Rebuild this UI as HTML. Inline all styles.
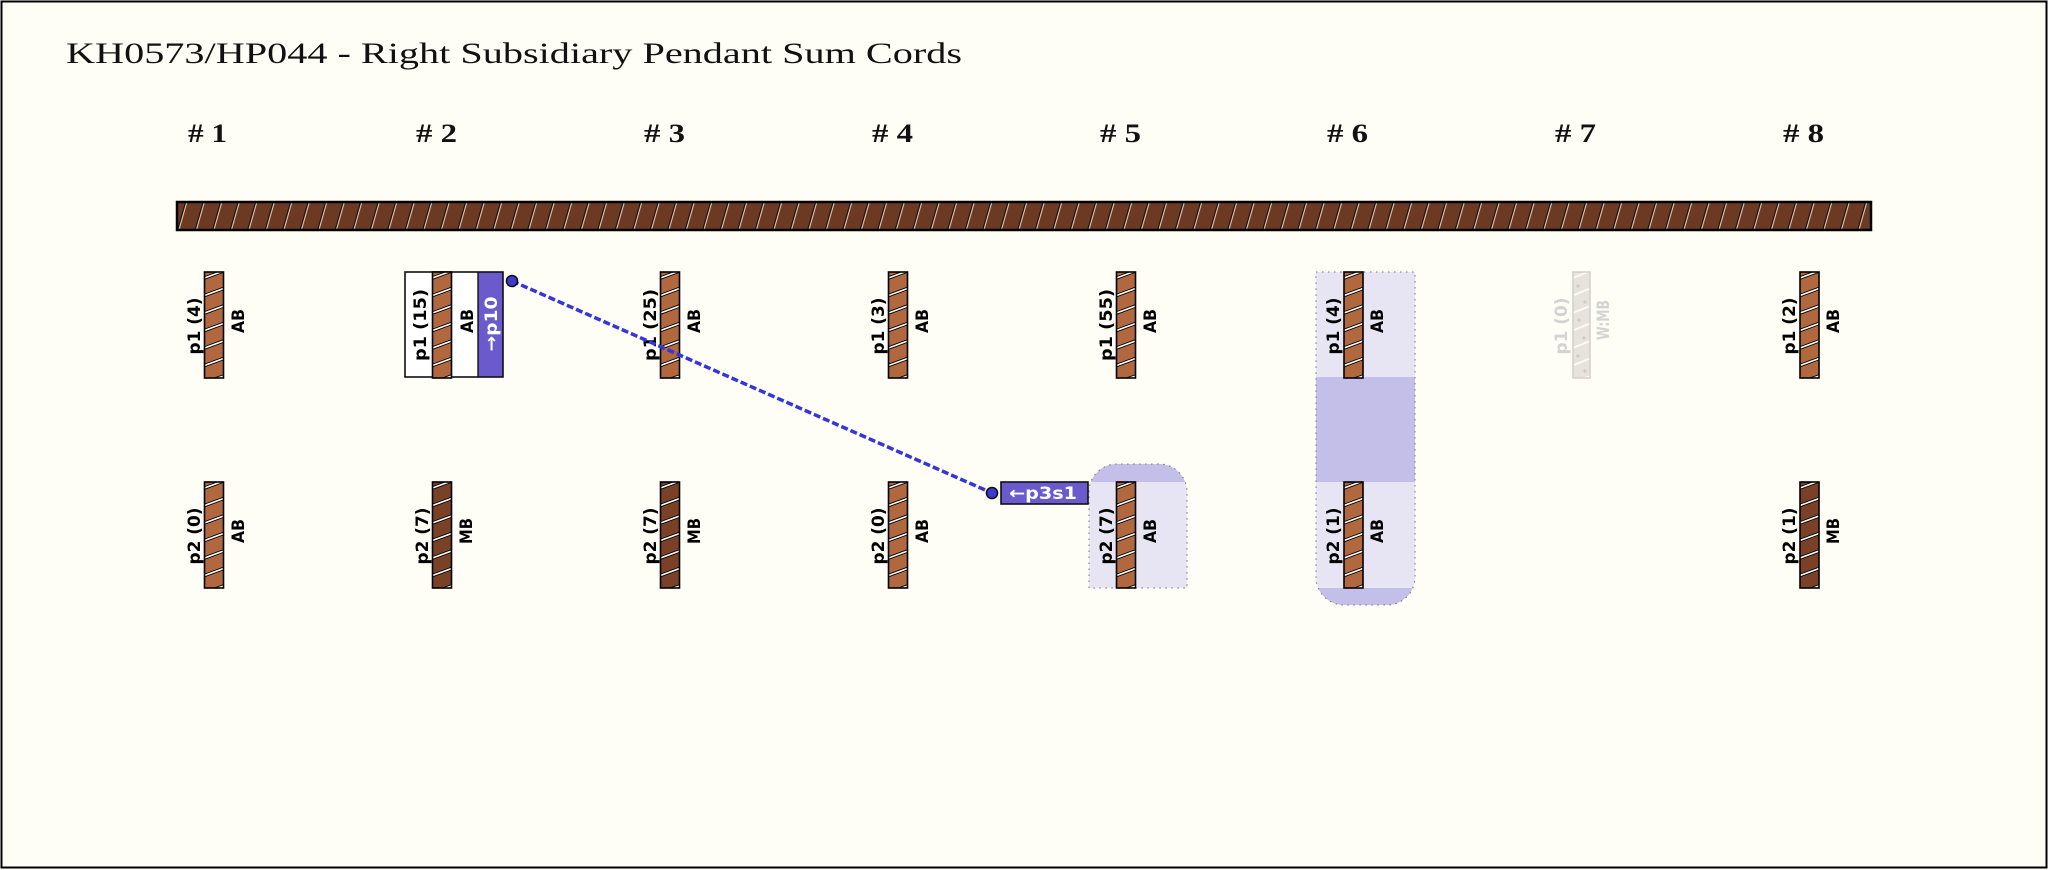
<!DOCTYPE html>
<html>
<head>
<meta charset="utf-8">
<style>
  html, body { margin:0; padding:0; background:#fffef6; }
  svg { display:block; }
  .lbl { font-family: "DejaVu Sans", "Liberation Sans", sans-serif; font-weight: bold; font-size: 17px; fill: #000; }
  .ghost { fill: #d3d3d3; }
  .wlbl { fill: #ffffff; }
  .hdr { font-family: "Liberation Serif", serif; font-weight: bold; font-size: 26px; fill: #111; }
  .ttl { font-family: "Liberation Serif", serif; font-size: 30px; fill: #111; }
</style>
</head>
<body>
<svg width="2048" height="870" viewBox="0 0 2048 870" xmlns="http://www.w3.org/2000/svg">
  <defs>
    <clipPath id="cc"><rect x="0" y="0" width="19" height="106"/></clipPath>
    <clipPath id="c5"><path d="M1089,588 L1089,492 A28,28 0 0 1 1117,464 L1159,464 A28,28 0 0 1 1187,492 L1187,588 Z"/></clipPath>
    <clipPath id="c6"><path d="M1316,272 L1415,272 L1415,577 A28,28 0 0 1 1387,605 L1344,605 A28,28 0 0 1 1316,577 Z"/></clipPath>
    <g id="stripes">
      <g clip-path="url(#cc)">
        <path d="M0,6 L19,-1 M0,23.5 L19,16.5 M0,41 L19,34 M0,58.5 L19,51.5 M0,76 L19,69 M0,93.5 L19,86.5 M0,111 L19,104" stroke="#000" stroke-width="3.4" fill="none"/>
        <path d="M0,6 L19,-1 M0,23.5 L19,16.5 M0,41 L19,34 M0,58.5 L19,51.5 M0,76 L19,69 M0,93.5 L19,86.5 M0,111 L19,104" stroke="#fff" stroke-width="1.6" fill="none"/>
      </g>
    </g>
    <g id="cAB">
      <rect x="0" y="0" width="19" height="106" fill="#b1683f"/>
      <use href="#stripes"/>
      <rect x="0" y="0" width="19" height="106" fill="none" stroke="#000" stroke-width="1.6"/>
    </g>
    <g id="cMB">
      <rect x="0" y="0" width="19" height="106" fill="#7b4127"/>
      <use href="#stripes"/>
      <rect x="0" y="0" width="19" height="106" fill="none" stroke="#000" stroke-width="1.6"/>
    </g>
    <g id="cW">
      <rect x="0" y="0" width="17" height="106" fill="#e6e2dc"/>
      <g clip-path="url(#cc)">
        <path d="M0,6 L17,-1 M0,23.5 L17,16.5 M0,41 L17,34 M0,58.5 L17,51.5 M0,76 L17,69 M0,93.5 L17,86.5 M0,111 L17,104" stroke="#fbfbf8" stroke-width="2" fill="none"/>
        <circle cx="5" cy="14" r="1.6" fill="#d5c9bd"/><circle cx="12" cy="30" r="1.6" fill="#d5c9bd"/>
        <circle cx="6" cy="48" r="1.6" fill="#d5c9bd"/><circle cx="11" cy="66" r="1.6" fill="#d5c9bd"/>
        <circle cx="5" cy="84" r="1.6" fill="#d5c9bd"/><circle cx="12" cy="99" r="1.6" fill="#d5c9bd"/>
      </g>
      <rect x="0" y="0" width="17" height="106" fill="none" stroke="#d2cfca" stroke-width="1.5"/>
    </g>
    <pattern id="barpat" patternUnits="userSpaceOnUse" x="177" y="202" width="17.5" height="28">
      <rect x="0" y="0" width="17.5" height="28" fill="#6c3a23"/>
      <path d="M0.6,28 L8.6,0" stroke="#1e0e06" stroke-width="1.1"/>
      <path d="M1.9,28 L9.9,0" stroke="#d4c6b9" stroke-width="1.1"/>
    </pattern>
  </defs>

  <!-- frame -->
  <rect x="1.5" y="1.5" width="2045" height="866" fill="#fffef6" stroke="#000" stroke-width="2"/>

  <!-- title -->
  <text class="ttl" x="66" y="63" textLength="896" lengthAdjust="spacingAndGlyphs">KH0573/HP044 - Right Subsidiary Pendant Sum Cords</text>

  <!-- headers -->
  <text class="hdr" x="188" y="142" textLength="39" lengthAdjust="spacingAndGlyphs"># 1</text>
  <text class="hdr" x="416" y="142" textLength="41" lengthAdjust="spacingAndGlyphs"># 2</text>
  <text class="hdr" x="644" y="142" textLength="41" lengthAdjust="spacingAndGlyphs"># 3</text>
  <text class="hdr" x="872" y="142" textLength="41" lengthAdjust="spacingAndGlyphs"># 4</text>
  <text class="hdr" x="1100" y="142" textLength="41" lengthAdjust="spacingAndGlyphs"># 5</text>
  <text class="hdr" x="1327" y="142" textLength="41" lengthAdjust="spacingAndGlyphs"># 6</text>
  <text class="hdr" x="1555" y="142" textLength="41" lengthAdjust="spacingAndGlyphs"># 7</text>
  <text class="hdr" x="1783" y="142" textLength="41" lengthAdjust="spacingAndGlyphs"># 8</text>

  <!-- primary bar -->
  <rect x="177" y="202" width="1694" height="28" fill="url(#barpat)" stroke="#000" stroke-width="2.5"/>

  <!-- highlight group col 6 -->
  <g clip-path="url(#c6)">
    <rect x="1316" y="272" width="99" height="333" fill="#e7e5f3"/>
    <rect x="1316" y="377" width="99" height="105" fill="#c4bfe9"/>
    <rect x="1316" y="588" width="99" height="17" fill="#c4bfe9"/>
  </g>
  <path d="M1316,272 L1415,272 L1415,577 A28,28 0 0 1 1387,605 L1344,605 A28,28 0 0 1 1316,577 Z" fill="none" stroke="#6f6f7a" stroke-width="1" stroke-dasharray="1.5 4.5"/>

  <!-- highlight group col 5 lower -->
  <g clip-path="url(#c5)">
    <rect x="1089" y="464" width="98" height="124" fill="#e7e5f3"/>
    <rect x="1089" y="464" width="98" height="18" fill="#c4bfe9"/>
  </g>
  <path d="M1089,588 L1089,492 A28,28 0 0 1 1117,464 L1159,464 A28,28 0 0 1 1187,492 L1187,588 Z" fill="none" stroke="#6f6f7a" stroke-width="1" stroke-dasharray="1.5 4.5"/>

  <!-- col 2 upper box -->
  <rect x="405" y="272" width="98" height="105" fill="#ffffff"/>
  <rect x="478" y="272" width="25" height="105" fill="#6a5acd"/>
  <rect x="405" y="272" width="98" height="105" fill="none" stroke="#111" stroke-width="1.6"/>
  <line x1="478" y1="272" x2="478" y2="377" stroke="#111" stroke-width="1.4"/>

  <!-- upper cords -->
  <use href="#cAB" x="204.5" y="272"/>
  <use href="#cAB" x="432.5" y="272"/>
  <use href="#cAB" x="660.5" y="272"/>
  <use href="#cAB" x="888.5" y="272"/>
  <use href="#cAB" x="1116.5" y="272"/>
  <use href="#cAB" x="1344" y="272"/>
  <use href="#cW" x="1573" y="272"/>
  <use href="#cAB" x="1800" y="272"/>

  <!-- lower cords -->
  <use href="#cAB" x="204.5" y="482"/>
  <use href="#cMB" x="432.5" y="482"/>
  <use href="#cMB" x="660.5" y="482"/>
  <use href="#cAB" x="888.5" y="482"/>
  <use href="#cAB" x="1116.5" y="482"/>
  <use href="#cAB" x="1344" y="482"/>
  <use href="#cMB" x="1800" y="482"/>

  <!-- upper labels -->
  <text class="lbl" text-anchor="middle" transform="translate(200,326) rotate(-90)" textLength="57" lengthAdjust="spacingAndGlyphs">p1 (4)</text>
  <text class="lbl" text-anchor="middle" transform="translate(244,321) rotate(-90)" textLength="24" lengthAdjust="spacingAndGlyphs">AB</text>

  <text class="lbl" text-anchor="middle" transform="translate(426,325) rotate(-90)" textLength="72" lengthAdjust="spacingAndGlyphs">p1 (15)</text>
  <text class="lbl" text-anchor="middle" transform="translate(473,321) rotate(-90)" textLength="24" lengthAdjust="spacingAndGlyphs">AB</text>
  <text class="lbl wlbl" text-anchor="middle" transform="translate(497,324) rotate(-90)" textLength="55" lengthAdjust="spacingAndGlyphs">→p10</text>

  <text class="lbl" text-anchor="middle" transform="translate(656,325) rotate(-90)" textLength="72" lengthAdjust="spacingAndGlyphs">p1 (25)</text>
  <text class="lbl" text-anchor="middle" transform="translate(700,321) rotate(-90)" textLength="24" lengthAdjust="spacingAndGlyphs">AB</text>

  <text class="lbl" text-anchor="middle" transform="translate(884,326) rotate(-90)" textLength="57" lengthAdjust="spacingAndGlyphs">p1 (3)</text>
  <text class="lbl" text-anchor="middle" transform="translate(928,321) rotate(-90)" textLength="24" lengthAdjust="spacingAndGlyphs">AB</text>

  <text class="lbl" text-anchor="middle" transform="translate(1112,325) rotate(-90)" textLength="72" lengthAdjust="spacingAndGlyphs">p1 (55)</text>
  <text class="lbl" text-anchor="middle" transform="translate(1156,321) rotate(-90)" textLength="24" lengthAdjust="spacingAndGlyphs">AB</text>

  <text class="lbl" text-anchor="middle" transform="translate(1339,326) rotate(-90)" textLength="57" lengthAdjust="spacingAndGlyphs">p1 (4)</text>
  <text class="lbl" text-anchor="middle" transform="translate(1383,321) rotate(-90)" textLength="24" lengthAdjust="spacingAndGlyphs">AB</text>

  <text class="lbl ghost" text-anchor="middle" transform="translate(1567,326) rotate(-90)" textLength="57" lengthAdjust="spacingAndGlyphs">p1 (0)</text>
  <text class="lbl ghost" text-anchor="middle" transform="translate(1609,320) rotate(-90)" textLength="40" lengthAdjust="spacingAndGlyphs">W:MB</text>

  <text class="lbl" text-anchor="middle" transform="translate(1795,326) rotate(-90)" textLength="57" lengthAdjust="spacingAndGlyphs">p1 (2)</text>
  <text class="lbl" text-anchor="middle" transform="translate(1839,321) rotate(-90)" textLength="24" lengthAdjust="spacingAndGlyphs">AB</text>

  <!-- lower labels -->
  <text class="lbl" text-anchor="middle" transform="translate(200,536) rotate(-90)" textLength="57" lengthAdjust="spacingAndGlyphs">p2 (0)</text>
  <text class="lbl" text-anchor="middle" transform="translate(244,531) rotate(-90)" textLength="24" lengthAdjust="spacingAndGlyphs">AB</text>

  <text class="lbl" text-anchor="middle" transform="translate(428,536) rotate(-90)" textLength="57" lengthAdjust="spacingAndGlyphs">p2 (7)</text>
  <text class="lbl" text-anchor="middle" transform="translate(472,531) rotate(-90)" textLength="26" lengthAdjust="spacingAndGlyphs">MB</text>

  <text class="lbl" text-anchor="middle" transform="translate(656,536) rotate(-90)" textLength="57" lengthAdjust="spacingAndGlyphs">p2 (7)</text>
  <text class="lbl" text-anchor="middle" transform="translate(700,531) rotate(-90)" textLength="26" lengthAdjust="spacingAndGlyphs">MB</text>

  <text class="lbl" text-anchor="middle" transform="translate(884,536) rotate(-90)" textLength="57" lengthAdjust="spacingAndGlyphs">p2 (0)</text>
  <text class="lbl" text-anchor="middle" transform="translate(928,531) rotate(-90)" textLength="24" lengthAdjust="spacingAndGlyphs">AB</text>

  <text class="lbl" text-anchor="middle" transform="translate(1112,536) rotate(-90)" textLength="57" lengthAdjust="spacingAndGlyphs">p2 (7)</text>
  <text class="lbl" text-anchor="middle" transform="translate(1156,531) rotate(-90)" textLength="24" lengthAdjust="spacingAndGlyphs">AB</text>

  <text class="lbl" text-anchor="middle" transform="translate(1339,536) rotate(-90)" textLength="57" lengthAdjust="spacingAndGlyphs">p2 (1)</text>
  <text class="lbl" text-anchor="middle" transform="translate(1383,531) rotate(-90)" textLength="24" lengthAdjust="spacingAndGlyphs">AB</text>

  <text class="lbl" text-anchor="middle" transform="translate(1795,536) rotate(-90)" textLength="57" lengthAdjust="spacingAndGlyphs">p2 (1)</text>
  <text class="lbl" text-anchor="middle" transform="translate(1839,531) rotate(-90)" textLength="26" lengthAdjust="spacingAndGlyphs">MB</text>

  <!-- connector -->
  <line x1="512" y1="281" x2="992" y2="493" stroke="#3535dc" stroke-width="3.5" stroke-dasharray="7 3"/>
  <circle cx="512" cy="281" r="5.5" fill="#3b3bd2" stroke="#111" stroke-width="1.6"/>
  <circle cx="992" cy="493" r="5.5" fill="#3b3bd2" stroke="#111" stroke-width="1.6"/>

  <!-- p3s1 box -->
  <rect x="1001" y="482" width="87" height="22" fill="#6a5acd" stroke="#111" stroke-width="1.6"/>
  <text class="lbl wlbl" x="1043" y="499" text-anchor="middle" textLength="68" lengthAdjust="spacingAndGlyphs">←p3s1</text>
</svg>
</body>
</html>
